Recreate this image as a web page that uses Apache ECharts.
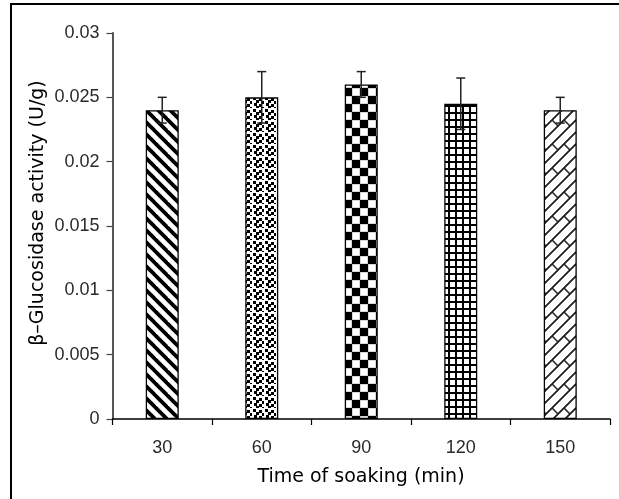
<!DOCTYPE html>
<html>
<head>
<meta charset="utf-8">
<script src="https://cdn.jsdelivr.net/npm/echarts@6/dist/echarts.min.js"></script>
<style>
html,body{margin:0;padding:0;background:#fff;}
#chart{width:619px;height:499px;}
</style>
</head>
<body>
<div id="chart"></div>
<script>
// ---- data ----
const categories = ['30', '60', '90', '120', '150'];
const activity = [0.024, 0.025, 0.026, 0.0245, 0.024];
const errors = [0.001, 0.002, 0.001, 0.002, 0.001];
const xTitle = 'Time of soaking (min)';
const yTitle = 'β–Glucosidase activity (U/g)';

// ---- patterns ----
function makeTile(size, draw) {
  const c = document.createElement('canvas');
  c.width = size; c.height = size;
  const ctx = c.getContext('2d');
  ctx.fillStyle = '#fff';
  ctx.fillRect(0, 0, size, size);
  draw(ctx, size);
  return { image: c, repeat: 'repeat' };
}
const patStripes = makeTile(12, (ctx, s) => {
  ctx.strokeStyle = '#000'; ctx.lineWidth = 3.8;
  for (const k of [-s, 0, s]) {
    ctx.beginPath(); ctx.moveTo(k - 2, -2); ctx.lineTo(k + s + 2, s + 2); ctx.stroke();
  }
});
const patDots = makeTile(12, (ctx, s) => {
  ctx.fillStyle = '#000';
  const pts = [[1,1],[7,2],[4,4],[10,5],[2,7],[7,8],[4,10],[10,11]];
  for (const p of pts) ctx.fillRect(p[0], p[1], 3, 3);
});
const patChecker = makeTile(16, (ctx, s) => {
  ctx.fillStyle = '#000';
  ctx.fillRect(0, 0, 8, 8);
  ctx.fillRect(8, 8, 8, 8);
  ctx.strokeStyle = '#bbb'; ctx.lineWidth = 0.6;
  ctx.strokeRect(8.3, 0.3, 7.4, 7.4);
  ctx.strokeRect(0.3, 8.3, 7.4, 7.4);
});
const patGrid = makeTile(7, (ctx, s) => {
  ctx.fillStyle = '#000';
  ctx.fillRect(0, 0, 2, s);
  ctx.fillRect(0, 0, s, 2);
});
const patBrick = makeTile(24, (ctx, s) => {
  ctx.strokeStyle = '#222'; ctx.lineWidth = 1.5;
  for (const dx of [-s, 0, s]) for (const dy of [-s, 0, s]) {
    for (const c of [12, 24]) {
      ctx.beginPath(); ctx.moveTo(dx + c, dy); ctx.lineTo(dx, dy + c); ctx.stroke();
      ctx.beginPath(); ctx.moveTo(dx + s, dy + c - s); ctx.lineTo(dx + c - s, dy + s); ctx.stroke();
    }
    ctx.beginPath(); ctx.moveTo(dx, dy); ctx.lineTo(dx + 6, dy + 6); ctx.stroke();
    ctx.beginPath(); ctx.moveTo(dx + 12, dy); ctx.lineTo(dx + 18, dy + 6); ctx.stroke();
  }
});
const patterns = [patStripes, patDots, patChecker, patGrid, patBrick];

const chart = echarts.init(document.getElementById('chart'), null, { renderer: 'canvas' });
chart.setOption({
  animation: false,
  backgroundColor: '#fff',
  grid: { left: 112.5, right: 9, top: 33, bottom: 80, containLabel: false },
  xAxis: {
    type: 'category',
    data: categories,
    axisLine: { lineStyle: { color: '#000', width: 1.5 } },
    axisTick: { show: true, length: 6, lineStyle: { color: '#000', width: 1.2 } },
    axisLabel: { margin: 20, fontFamily: 'Liberation Sans, Arial, sans-serif', fontSize: 18, color: '#2a2a2a' },
    splitLine: { show: false }
  },
  yAxis: {
    type: 'value',
    min: 0, max: 0.03, interval: 0.005,
    axisLine: { show: true, lineStyle: { color: '#444', width: 1.8 } },
    axisTick: { show: true, length: 6, lineStyle: { color: '#444', width: 1.2 } },
    axisLabel: { margin: 13, fontFamily: 'Liberation Sans, Arial, sans-serif', fontSize: 18, color: '#2a2a2a' },
    splitLine: { show: false }
  },
  graphic: [
    { type: 'rect', shape: { x: 11, y: 4, width: 700, height: 600 }, style: { fill: 'none', stroke: '#000', lineWidth: 2 }, silent: true, z: -10 },
    { type: 'text', x: 38, y: 213, rotation: Math.PI / 2,
      style: { text: yTitle, fontFamily: 'DejaVu Sans, sans-serif', fontSize: 19, fill: '#000', align: 'center', verticalAlign: 'middle' } },
    { type: 'text', x: 361, y: 477,
      style: { text: xTitle, fontFamily: 'DejaVu Sans, sans-serif', fontSize: 19, fill: '#000', align: 'center', verticalAlign: 'middle' } }
  ],
  series: [
    {
      type: 'bar',
      barWidth: 33,
      data: activity.map((v, i) => ({ value: v, itemStyle: { color: patterns[i] } })),
      itemStyle: { borderColor: '#000', borderWidth: 1.3 }
    },
    {
      type: 'custom',
      z: 10,
      encode: { x: 0, y: [1, 2] },
      data: activity.map((v, i) => [i, v - errors[i], v + errors[i]]),
      renderItem: function (params, api) {
        const lo = api.coord([api.value(0), api.value(1)]);
        const hi = api.coord([api.value(0), api.value(2)]);
        const w = 4.5;
        const st = { stroke: '#222', lineWidth: 1.5 };
        return {
          type: 'group',
          children: [
            { type: 'line', shape: { x1: lo[0], y1: lo[1], x2: hi[0], y2: hi[1] }, style: st },
            { type: 'line', shape: { x1: lo[0] - w, y1: lo[1], x2: lo[0] + w, y2: lo[1] }, style: st },
            { type: 'line', shape: { x1: hi[0] - w, y1: hi[1], x2: hi[0] + w, y2: hi[1] }, style: st }
          ]
        };
      }
    }
  ]
});
</script>
</body>
</html>
